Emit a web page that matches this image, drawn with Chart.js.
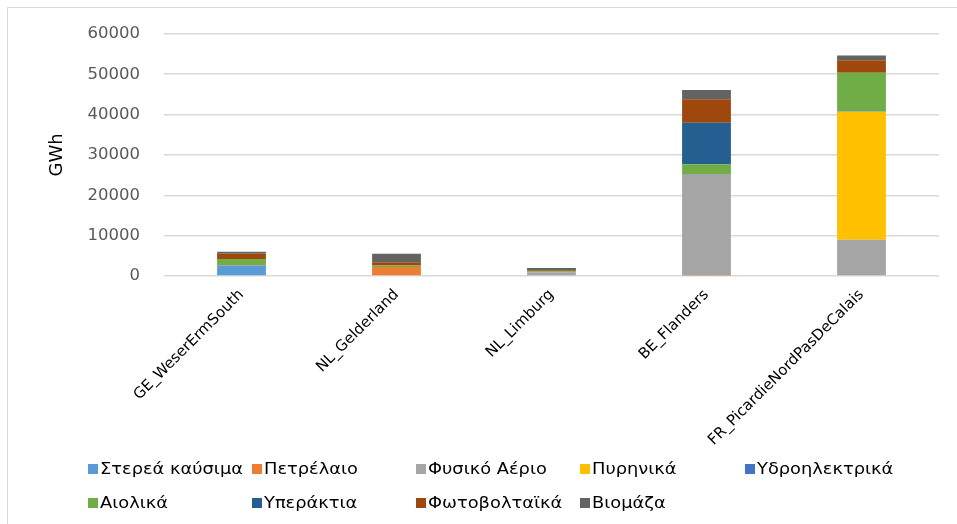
<!DOCTYPE html>
<html>
<head>
<meta charset="utf-8">
<script src="https://cdn.jsdelivr.net/npm/chart.js@4"></script>
<style>
  html, body { margin: 0; padding: 0; background: #fff; }
  #wrap { position: relative; width: 957px; height: 524px; overflow: hidden; }
  #frame { position: absolute; left: 7px; top: 7px; width: 1000px; height: 600px;
           border-left: 1px solid #d9d9d9; border-top: 1px solid #d9d9d9; pointer-events: none; }
  canvas { position: absolute; left: 0; top: 0; }
  #legend { position: absolute; left: 0; top: 0; width: 957px; height: 524px; pointer-events: none;
            font-family: "DejaVu Sans", sans-serif; font-size: 15.5px; color: #000; }
  .item { position: absolute; display: flex; align-items: center; white-space: nowrap; }
  .box { width: 10px; height: 10px; margin-right: 2px; flex: none; }
  .txt { display: inline-block; transform: scaleX(1.15); transform-origin: left center; }
</style>
</head>
<body>
<div id="wrap">
  <canvas id="c" width="957" height="524"></canvas>
  <div id="frame"></div>
  <div id="legend"></div>
</div>
<script>
const categories = ['GE_WeserErmSouth', 'NL_Gelderland', 'NL_Limburg', 'BE_Flanders', 'FR_PicardieNordPasDeCalais'];
const seriesNames = ['Στερεά καύσιμα', 'Πετρέλαιο', 'Φυσικό Αέριο', 'Πυρηνικά', 'Υδροηλεκτρικά', 'Αιολικά', 'Υπεράκτια', 'Φωτοβολταϊκά', 'Βιομάζα'];
const solidFuels = [2500, 0, 0, 0, 0];
const oil        = [0, 2200, 0, 100, 0];
const naturalGas = [200, 0, 900, 25200, 9000];
const nuclear    = [0, 0, 0, 0, 31700];
const hydro      = [0, 0, 0, 0, 150];
const wind       = [1500, 400, 300, 2400, 9500];
const offshore   = [0, 0, 0, 10300, 0];
const solarPV    = [1300, 800, 200, 5800, 3100];
const biomass    = [500, 2100, 600, 2300, 1200];
const yTicks = [0, 10000, 20000, 30000, 40000, 50000, 60000];

const seriesValues = [solidFuels, oil, naturalGas, nuclear, hydro, wind, offshore, solarPV, biomass];
const colors = ['#5B9BD5', '#ED7D31', '#A5A5A5', '#FFC000', '#4472C4', '#70AD47', '#255E91', '#9E480E', '#636363'];

const datasets = seriesNames.map((name, i) => ({
  label: name,
  data: seriesValues[i],
  backgroundColor: colors[i],
  borderWidth: 0,
  barPercentage: 0.63,
  categoryPercentage: 0.5
}));

new Chart(document.getElementById('c'), {
  type: 'bar',
  data: { labels: categories, datasets },
  options: {
    responsive: false,
    animation: false,
    layout: { padding: { top: 26, right: 18, left: 0, bottom: 0 } },
    plugins: { legend: { display: false }, tooltip: { enabled: false } },
    scales: {
      x: {
        stacked: true,
        grid: { display: false },
        border: { display: false },
        ticks: {
          color: '#000',
          font: { family: 'DejaVu Sans', size: 15 },
          minRotation: 45, maxRotation: 45,
          padding: 2
        },
        afterFit: s => { s.height = 248; }
      },
      y: {
        stacked: true,
        min: 0, max: 60000,
        afterBuildTicks: s => { s.ticks = yTicks.map(v => ({ value: v })); },
        grid: { color: '#d9d9d9', lineWidth: 1.5, drawTicks: false },
        border: { display: false },
        ticks: {
          color: '#595959',
          font: { family: 'DejaVu Sans', size: 16.5 },
          padding: 24,
          callback: v => String(v)
        },
        title: {
          display: true, text: 'GWh', color: '#000',
          font: { family: 'DejaVu Sans', size: 18 },
          padding: { top: 47, bottom: 0 }
        },
        afterFit: s => { s.width = 164; }
      }
    }
  }
});

// Legend laid out in aligned columns like the reference
const legend = document.getElementById('legend');
const colX = [88, 252, 416, 580, 745];
const rowY = [469, 503];
seriesNames.forEach((name, i) => {
  const el = document.createElement('div');
  el.className = 'item';
  el.style.left = colX[i % 5] + 'px';
  el.style.top = (rowY[Math.floor(i / 5)] - 10) + 'px';
  el.style.height = '20px';
  const b = document.createElement('span');
  b.className = 'box';
  b.style.background = colors[i];
  const t = document.createElement('span');
  t.className = 'txt';
  t.textContent = name;
  el.appendChild(b); el.appendChild(t);
  legend.appendChild(el);
});
</script>
</body>
</html>
